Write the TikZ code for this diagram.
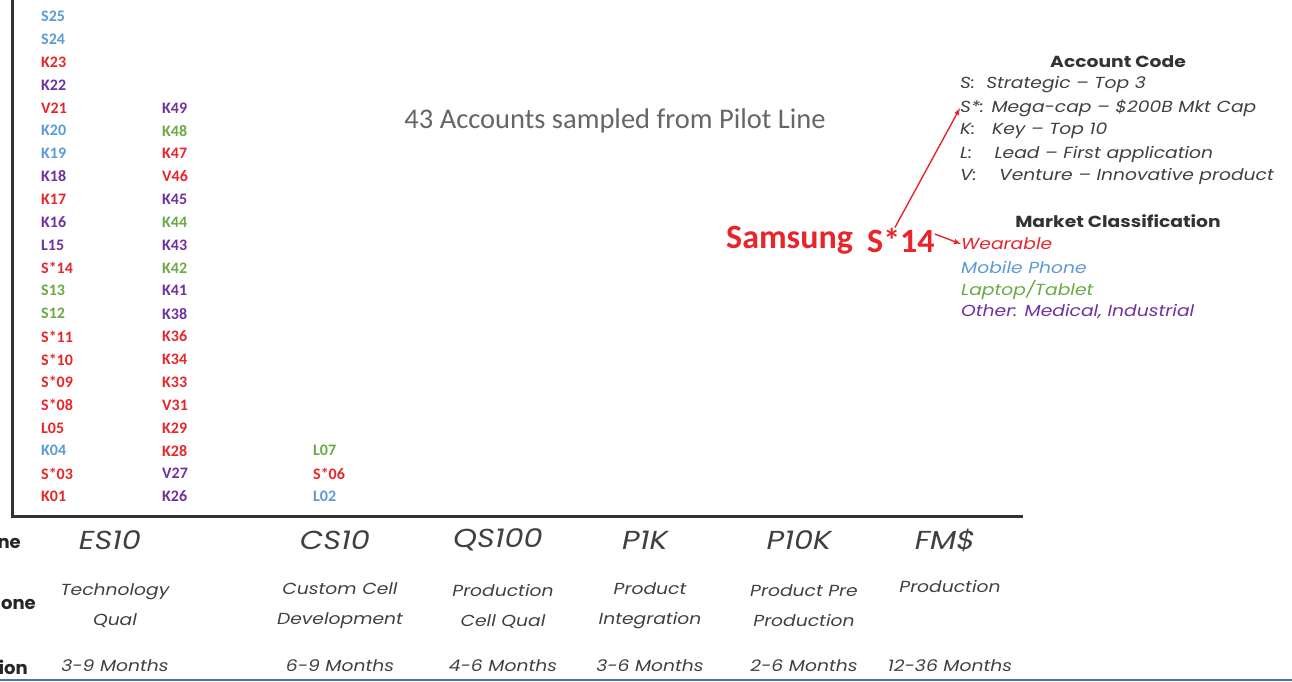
\documentclass[tikz,border=0pt]{standalone}
\usepackage{fontspec}
\setmainfont{Carlito}
\newfontfamily\montfont[FakeStretch=1.17]{Poppins}
\newfontfamily\montplain{Poppins}
\definecolor{wearred}{HTML}{E8262A}
\definecolor{mobblue}{HTML}{5B9BD5}
\definecolor{lapgreen}{HTML}{6AAA45}
\definecolor{othpurple}{HTML}{7030A0}
\definecolor{legtext}{HTML}{404040}
\definecolor{slideblue}{HTML}{4A72B0}

\tikzset{
  acct/.style = {anchor=west, inner sep=0pt, font=\bfseries\fontsize{16}{16}\selectfont},
  legline/.style = {anchor=west, inner sep=0pt, text=legtext, font=\montfont\itshape\fontsize{16}{16}\selectfont},
  leghead/.style = {inner sep=0pt, text=legtext!80!black, font=\montfont\bfseries\fontsize{16}{16}\selectfont},
  mktline/.style = {anchor=west, inner sep=0pt, font=\montfont\itshape\fontsize{16}{16}\selectfont},
  phase/.style = {inner sep=0pt, text=legtext, font=\montfont\itshape\fontsize{26}{26}\selectfont},
  milestone/.style = {inner sep=0pt, align=center, text=legtext, font=\montfont\itshape\fontsize{16}{30}\selectfont},
  rowhead/.style = {anchor=east, inner sep=0pt, text=black!85, font=\montplain\bfseries\fontsize{18}{18}\selectfont},
  axis/.style = {line width=3pt, black!80},
  redarrow/.style = {-latex, line width=1.4pt, wearred}
}

\begin{document}
\begin{tikzpicture}[x=1pt,y=-1pt]
\useasboundingbox (0,0) rectangle (1292,682);

% axes
\coordinate (top) at (12,0);
\coordinate (origin) at (12,516);
\coordinate (xend) at (1023,516);
\draw[axis] (top) -- (origin) -- (xend);

% accounts, bottom to top
\foreach \name/\col [count=\i from 0] in {K01/wearred, S*03/wearred, K04/mobblue, L05/wearred,
    S*08/wearred, S*09/wearred, S*10/wearred, S*11/wearred, S12/lapgreen, S13/lapgreen,
    S*14/wearred, L15/othpurple, K16/othpurple, K17/wearred, K18/othpurple, K19/mobblue,
    K20/mobblue, V21/wearred, K22/othpurple, K23/wearred, S24/mobblue, S25/mobblue}
  \node[acct, text=\col] (a\i) at (41, 496.5-22.86*\i) {\name};
\foreach \name/\col [count=\i from 0] in {K26/othpurple, V27/othpurple, K28/wearred, K29/wearred,
    V31/wearred, K33/wearred, K34/wearred, K36/wearred, K38/othpurple, K41/othpurple,
    K42/lapgreen, K43/othpurple, K44/lapgreen, K45/othpurple, V46/wearred, K47/wearred,
    K48/lapgreen, K49/othpurple}
  \node[acct, text=\col] (b\i) at (162, 496.5-22.86*\i) {\name};
\foreach \name/\col [count=\i from 0] in {L02/mobblue, S*06/wearred, L07/lapgreen}
  \node[acct, text=\col] (c\i) at (313, 496.5-22.86*\i) {\name};

\node[inner sep=0pt, text=black!60, font=\fontsize{28.5}{28.5}\selectfont] (title) at (615,121) {43 Accounts sampled from Pilot Line};

% legend
\node[leghead] (codehead) at (1118,62) {Account Code};
\node[legline] (lgS) at (960,85) {S:\ \ Strategic – Top 3};
\node[legline] (lgSstar) at (960,108) {S*: Mega-cap – \$200B Mkt Cap};
\node[legline] (lgK) at (960,131) {K:\ \ \ Key – Top 10};
\node[legline] (lgL) at (960,154) {L:\ \ \ \ Lead – First application};
\node[legline] (lgV) at (960,176) {V:\ \ \ \ Venture – Innovative product};

\node[leghead] (mkthead) at (1118,221) {Market Classification};
\node[mktline, text=wearred] (wear) at (961,244) {Wearable};
\node[mktline, text=mobblue] (mob) at (961,267) {Mobile Phone};
\node[mktline, text=lapgreen] (lap) at (961,290) {Laptop/Tablet};
\node[mktline, text=othpurple] (oth) at (961,312) {Other: Medical, Industrial};

\node[inner sep=0pt, anchor=west, text=wearred, font=\bfseries\fontsize{34}{34}\selectfont] (samsung) at (726,240) {Samsung};
\node[inner sep=0pt, anchor=west, text=wearred, font=\bfseries\fontsize{34}{34}\selectfont] (s14) at (867,240) {S*14};
\draw[redarrow] ([xshift=-6pt]s14.north) -- (lgSstar.west);
\draw[redarrow] ([yshift=6pt]s14.east) -- (wear.west);

% phases
\foreach \ph/\ms/\du/\x in {ES10/Technology\\Qual/3-9 Months/115,
    CS10/Custom Cell\\Development/6-9 Months/340,
    QS100/Production\\Cell Qual/4-6 Months/503,
    P1K/Product\\Integration/3-6 Months/650,
    P10K/Product Pre\\Production/2-6 Months/804,
    FM\$/Production\\\strut/12-36 Months/950}{
  \node[phase] (ph\x) at (\x-5,540) {\ph};
  \node[milestone] (ms\x) at (\x,606) {\ms};
  \node[milestone] (du\x) at (\x,666) {\du};
}

\node[rowhead] (hname) at (21,543) {ne};
\node[rowhead] (hmile) at (36,604) {one};
\node[rowhead] (hdur) at (28,667) {ion};

\coordinate (bl) at (0,680);
\coordinate (br) at (1292,680);
\draw[slideblue, line width=1.5pt] (bl) -- (br);
\end{tikzpicture}
\end{document}
